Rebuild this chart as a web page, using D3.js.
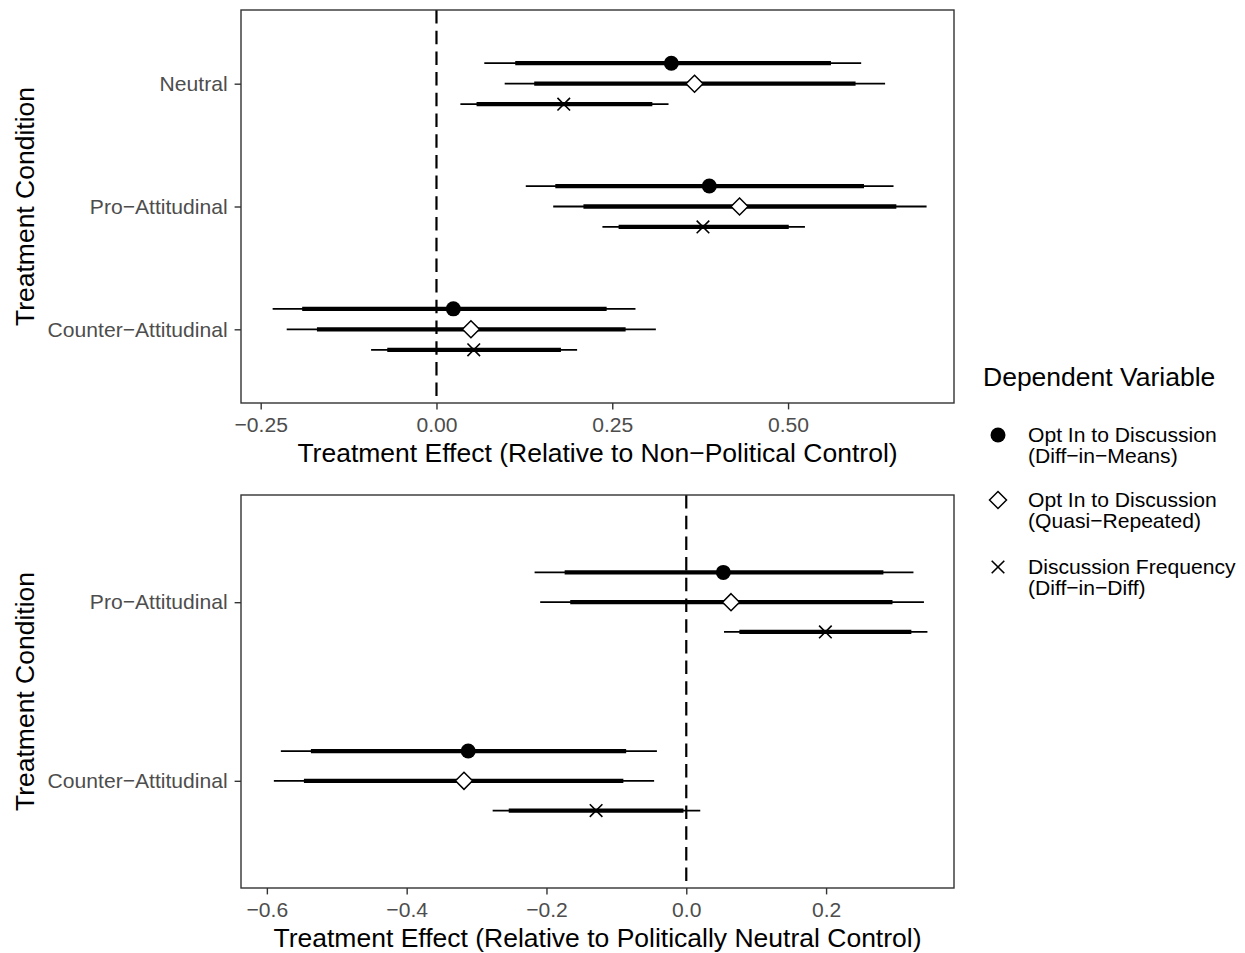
<!DOCTYPE html>
<html><head><meta charset="utf-8">
<script src="https://cdn.jsdelivr.net/npm/d3@7"></script>
<style>
body{margin:0;background:#fff;}
text{font-family:"Liberation Sans",Arial,Helvetica,sans-serif;}
</style>
</head><body>
<svg id="chart" width="1245" height="953"></svg>
<script>
// ---------- DATA ----------
const seriesLine1 = ["Opt In to Discussion", "Opt In to Discussion", "Discussion Frequency"];
const seriesLine2 = ["(Diff\u2212in\u2212Means)", "(Quasi\u2212Repeated)", "(Diff\u2212in\u2212Diff)"];
const legendTitle = "Dependent Variable";
const yTitle = "Treatment Condition";

// Top panel: rows = conditions, columns = series (Diff-in-Means, Quasi-Repeated, Diff-in-Diff)
const topConditions = ["Neutral", "Pro\u2212Attitudinal", "Counter\u2212Attitudinal"];
const topEstimate = [[0.334, 0.367, 0.181], [0.388, 0.431, 0.379], [0.024, 0.049, 0.053]];
const topLow95    = [[0.068, 0.097, 0.034], [0.127, 0.166, 0.236], [-0.233, -0.213, -0.093]];
const topHigh95   = [[0.604, 0.638, 0.330], [0.650, 0.697, 0.524], [0.283, 0.312, 0.200]];
const topLow90    = [[0.112, 0.139, 0.057], [0.169, 0.209, 0.259], [-0.191, -0.170, -0.070]];
const topHigh90   = [[0.561, 0.596, 0.307], [0.608, 0.654, 0.501], [0.242, 0.269, 0.177]];
const topTicks = [-0.25, 0, 0.25, 0.5];
const topDomain = [-0.278, 0.736];
const topXTitle = "Treatment Effect (Relative to Non\u2212Political Control)";

// Bottom panel
const bottomConditions = ["Pro\u2212Attitudinal", "Counter\u2212Attitudinal"];
const bottomEstimate = [[0.053, 0.064, 0.199], [-0.312, -0.318, -0.129]];
const bottomLow95    = [[-0.217, -0.209, 0.054], [-0.580, -0.590, -0.277]];
const bottomHigh95   = [[0.325, 0.340, 0.345], [-0.042, -0.046, 0.020]];
const bottomLow90    = [[-0.174, -0.166, 0.076], [-0.537, -0.547, -0.254]];
const bottomHigh90   = [[0.282, 0.295, 0.322], [-0.086, -0.090, -0.004]];
const bottomTicks = [-0.6, -0.4, -0.2, 0, 0.2];
const bottomDomain = [-0.637, 0.383];
const bottomXTitle = "Treatment Effect (Relative to Politically Neutral Control)";

// ---------- DRAWING ----------
const svg = d3.select("#chart");
const L = 241, R = 954;
const titleSize = 26.5, textSize = 21.1;
const tickLen = 6.4;

function symbol(g, k, x, y) {
  if (k === 0) {
    g.append("circle").attr("cx", x).attr("cy", y).attr("r", 7.5).attr("fill", "#000");
  } else if (k === 1) {
    const s = 8.5;
    g.append("path").attr("d", `M${x},${y - s}L${x + s},${y}L${x},${y + s}L${x - s},${y}Z`)
      .attr("fill", "#fff").attr("stroke", "#000").attr("stroke-width", 1.5);
  } else {
    const s = 6.3;
    g.append("path").attr("d", `M${x - s},${y - s}L${x + s},${y + s}M${x - s},${y + s}L${x + s},${y - s}`)
      .attr("fill", "none").attr("stroke", "#000").attr("stroke-width", 1.6);
  }
}

function panel(top, bottom, conditions, est, lo95, hi95, lo90, hi90, ticks, domain, fmt, xTitle) {
  const g = svg.append("g");
  const x = d3.scaleLinear().domain(domain).range([L, R]);
  const y = d3.scalePoint().domain(conditions).range([top, bottom]).padding(0.6);
  const dodge = y.step() * 0.5 / 3;

  // zero line
  g.append("line").attr("x1", x(0)).attr("x2", x(0)).attr("y1", top).attr("y2", bottom)
    .attr("stroke", "#000").attr("stroke-width", 2.2).attr("stroke-dasharray", "13.5,7.2");

  conditions.forEach((c, i) => {
    [0, 1, 2].forEach(k => {
      const yy = y(c) + (k - 1) * dodge;
      g.append("line").attr("x1", x(lo95[i][k])).attr("x2", x(hi95[i][k]))
        .attr("y1", yy).attr("y2", yy).attr("stroke", "#000").attr("stroke-width", 1.8);
      g.append("line").attr("x1", x(lo90[i][k])).attr("x2", x(hi90[i][k]))
        .attr("y1", yy).attr("y2", yy).attr("stroke", "#000").attr("stroke-width", 4.3);
      symbol(g, k, x(est[i][k]), yy);
    });
  });

  // border
  g.append("rect").attr("x", L).attr("y", top).attr("width", R - L).attr("height", bottom - top)
    .attr("fill", "none").attr("stroke", "#333333").attr("stroke-width", 1.4);

  // x axis
  const xa = g.append("g").attr("transform", `translate(0,${bottom})`)
    .call(d3.axisBottom(x).tickValues(ticks).tickFormat(d3.format(fmt)).tickSize(tickLen).tickPadding(8));
  xa.select(".domain").remove();
  xa.selectAll("line").attr("stroke", "#333333").attr("stroke-width", 1.4);
  xa.selectAll("text").attr("fill", "#4D4D4D").style("font-size", textSize + "px")
    .style("font-family", '"Liberation Sans",Arial,sans-serif');

  // y axis
  const ya = g.append("g").attr("transform", `translate(${L},0)`)
    .call(d3.axisLeft(y).tickSize(tickLen).tickPadding(7));
  ya.select(".domain").remove();
  ya.selectAll("line").attr("stroke", "#333333").attr("stroke-width", 1.4);
  ya.selectAll("text").attr("fill", "#4D4D4D").style("font-size", textSize + "px")
    .style("font-family", '"Liberation Sans",Arial,sans-serif');

  // titles
  g.append("text").attr("x", (L + R) / 2).attr("y", bottom + 59).attr("text-anchor", "middle")
    .style("font-size", titleSize + "px").attr("fill", "#000").text(xTitle);
  g.append("text").attr("transform", `translate(34,${(top + bottom) / 2}) rotate(-90)`)
    .attr("text-anchor", "middle").style("font-size", titleSize + "px").attr("fill", "#000").text(yTitle);
}

panel(10, 403, topConditions, topEstimate, topLow95, topHigh95, topLow90, topHigh90, topTicks, topDomain, ".2f", topXTitle);
panel(495, 888, bottomConditions, bottomEstimate, bottomLow95, bottomHigh95, bottomLow90, bottomHigh90, bottomTicks, bottomDomain, ".1f", bottomXTitle);

// legend
const lg = svg.append("g");
lg.append("text").attr("x", 983).attr("y", 386).style("font-size", titleSize + "px").attr("fill", "#000").text(legendTitle);
const keyY = [435, 500, 567];
seriesLine1.forEach((t, k) => {
  symbol(lg, k, 998, keyY[k]);
  lg.append("text").attr("x", 1028).attr("y", keyY[k] + 7).style("font-size", textSize + "px").attr("fill", "#000").text(t);
  lg.append("text").attr("x", 1028).attr("y", keyY[k] + 28).style("font-size", textSize + "px").attr("fill", "#000").text(seriesLine2[k]);
});
</script>
</body></html>
